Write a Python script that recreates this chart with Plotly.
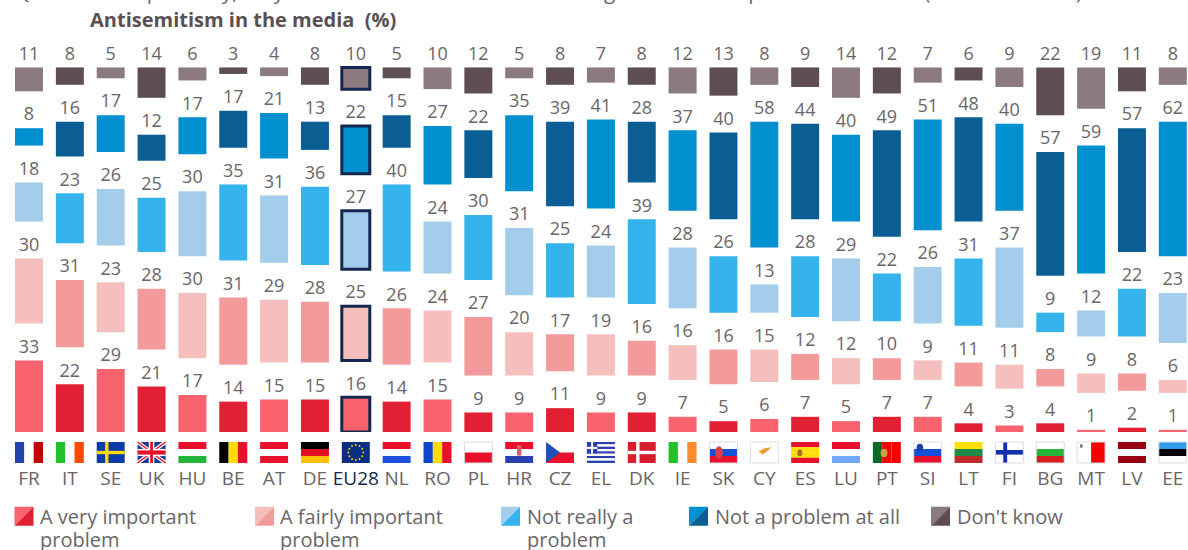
import math
import plotly.graph_objects as go

countries = ["FR","IT","SE","UK","HU","BE","AT","DE","EU28","NL","RO","PL","HR","CZ","EL","DK","IE","SK","CY","ES","LU","PT","SI","LT","FI","BG","MT","LV","EE"]
very_important = [33,22,29,21,17,14,15,15,16,14,15,9,9,11,9,9,7,5,6,7,5,7,7,4,3,4,1,2,1]
fairly_important = [30,31,23,28,30,31,29,28,25,26,24,27,20,17,19,16,16,16,15,12,12,10,9,11,11,8,9,8,6]
not_really = [18,23,26,25,30,35,31,36,27,40,24,30,31,25,24,39,28,26,13,28,29,22,26,31,37,9,12,22,23]
not_at_all = [8,16,17,12,17,17,21,13,22,15,27,22,35,39,41,28,37,40,58,44,40,49,51,48,40,57,59,57,62]
dont_know = [11,8,5,14,6,3,4,8,10,5,10,12,5,8,7,8,12,13,8,9,14,12,7,6,9,22,19,11,8]

series = [
    (["A very important", "problem"], very_important, "#F8636D", "#E12133"),
    (["A fairly important", "problem"], fairly_important, "#F4BFBD", "#F39B9B"),
    (["Not really a", "problem"], not_really, "#A4CDEC", "#35B3EC"),
    (["Not a problem at all"], not_at_all, "#008FCF", "#0A5E94"),
    (["Don't know"], dont_know, "#8B7A80", "#5E4E54"),
]

GAP = 17
LABEL_PAD = 1.5
W, H = 1188, 550
BOTTOM = 432
SCALE = 2.17
BAR = 0.685
TEXT = "#6A6568"
NAVY = "#14284F"
FONT = "Open Sans"
x0_px, step_px = 29.0, 40.85

def py(p):
    return (BOTTOM - p) / BOTTOM

def px(p):
    return p / W

fig = go.Figure()
offset = [0] * len(countries)
for name, vals, light, dark in series:
    colors = [light if i % 2 == 0 else dark for i in range(len(vals))]
    widths = [3 if c == "EU28" else 0 for c in countries]
    fig.add_trace(go.Bar(
        x=countries, y=vals, base=offset, name=" ".join(name), width=BAR,
        marker=dict(color=colors, line=dict(color=NAVY, width=widths)),
        showlegend=False, hoverinfo="x+y",
    ))
    tops = [o + v for o, v in zip(offset, vals)]
    fig.add_trace(go.Scatter(
        x=countries, y=[t + LABEL_PAD for t in tops], mode="text", text=[str(v) for v in vals],
        textposition="top center", showlegend=False, hoverinfo="skip", cliponaxis=False,
        textfont=dict(family=FONT, size=18, color=TEXT),
    ))
    offset = [t + GAP for t in tops]

# ---- flags
R, B, WH, G, Y, K = "#E8102A", "#1A44B8", "#FFFFFF", "#22B53A", "#FFDD00", "#000000"
stripes = {
    "FR": ("v", ["#2244AA", WH, "#C40000"]), "IT": ("v", ["#22C02A", WH, "#FF4D00"]),
    "SE": ("v", ["#0A3BA8"]), "UK": ("v", ["#1A3A90"]),
    "HU": ("h", [R, WH, G]), "BE": ("v", [K, Y, R]), "AT": ("h", [R, WH, R]),
    "DE": ("h", [K, "#E01020", "#FFC000"]), "EU28": ("v", ["#0B2E82"]),
    "NL": ("h", [R, WH, "#1F4FE0"]), "RO": ("v", ["#1144CC", Y, R]), "PL": ("h", [WH, R]),
    "HR": ("h", [R, WH, "#2A3FB0"]), "CZ": ("h", [WH, R]), "EL": ("h", ["#2A3FB0", WH] * 4 + ["#2A3FB0"]),
    "DK": ("v", ["#D81E2C"]), "IE": ("v", ["#22C02A", WH, "#FF8C30"]),
    "SK": ("h", [WH, "#1450D8", R]), "CY": ("v", [WH]), "ES": ("h", [R, Y, Y, R]),
    "LU": ("h", [R, WH, "#70A8FF"]), "PT": ("v", ["#0A6A28", "#F80000", "#F80000"]),
    "SI": ("h", [WH, "#1450D8", R]), "LT": ("h", ["#FFE000", "#1E8A45", "#C02A2A"]),
    "FI": ("v", [WH]), "BG": ("h", [WH, "#22B53A", "#D81E1E"]), "MT": ("v", [WH, "#F80000"]),
    "LV": ("h", ["#960010", WH, "#960010"]), "EE": ("h", ["#2E9CE8", K, WH]),
}
# (kind, u0, v0, u1, v1, colour) in flag fractions, v measured from the top
extras = {
    "SE": [("rect", .30, 0, .42, 1, Y), ("rect", 0, .42, 1, .58, Y)],
    "UK": [("line", 0, 0, 1, 1, WH, 4), ("line", 0, 1, 1, 0, WH, 4),
           ("line", 0, 0, 1, 1, R, 1.5), ("line", 0, 1, 1, 0, R, 1.5),
           ("rect", .40, 0, .60, 1, WH), ("rect", 0, .33, 1, .67, WH),
           ("rect", .45, 0, .55, 1, R), ("rect", 0, .40, 1, .60, R)],
    "HR": [("rect", .42, .15, .58, .65, "#D8606A")],
    "CZ": [("poly", [(0, 0), (.5, .5), (0, 1)], "#1F4FB8")],
    "EL": [("rect", 0, 0, .37, .55, "#2A3FB0"), ("rect", .15, 0, .22, .55, WH), ("rect", 0, .23, .37, .33, WH)],
    "DK": [("rect", .30, 0, .42, 1, WH), ("rect", 0, .42, 1, .58, WH)],
    "SK": [("circle", .2, .2, .48, .8, "#D8404A")],
    "CY": [("poly", [(.3, .45), (.5, .3), (.75, .25), (.6, .45), (.45, .6)], "#E8A030")],
    "ES": [("circle", .22, .36, .4, .68, "#B06A20")],
    "PT": [("circle", .28, .32, .52, .72, "#C8A040")],
    "SI": [("circle", .1, .08, .34, .48, "#1F3FB0")],
    "FI": [("rect", .28, 0, .42, 1, "#1030B0"), ("rect", 0, .38, 1, .60, "#1030B0")],
    "MT": [("circle", .1, .1, .2, .28, "#777777")],
}
FLAG_TOP, FLAG_BOT = 442, 463
shapes = []

def fx(i, u):
    return i - BAR / 2 + u * BAR

def fy(v):
    return py(FLAG_TOP + v * (FLAG_BOT - FLAG_TOP))

for i, c in enumerate(countries):
    direction, cols = stripes[c]
    n = len(cols)
    for k, col in enumerate(cols):
        a, b = k / n, (k + 1) / n
        if direction == "v":
            u0, u1, v0, v1 = a, b, 0, 1
        else:
            u0, u1, v0, v1 = 0, 1, a, b
        shapes.append(dict(type="rect", xref="x", yref="paper", x0=fx(i, u0), x1=fx(i, u1),
                           y0=fy(v0), y1=fy(v1), fillcolor=col, line=dict(width=0), layer="above"))
    for e in extras.get(c, []):
        if e[0] == "rect" or e[0] == "circle":
            shapes.append(dict(type=e[0], xref="x", yref="paper", x0=fx(i, e[1]), x1=fx(i, e[3]),
                               y0=fy(e[2]), y1=fy(e[4]), fillcolor=e[5], line=dict(width=0), layer="above"))
        elif e[0] == "line":
            shapes.append(dict(type="line", xref="x", yref="paper", x0=fx(i, e[1]), x1=fx(i, e[3]),
                               y0=fy(e[2]), y1=fy(e[4]), line=dict(color=e[5], width=e[6]), layer="above"))
        else:
            pts = [(px(x0_px + step_px * i + (u - .5) * BAR * step_px), fy(v)) for u, v in e[1]]
            path = "M " + " L ".join(f"{a:.5f},{b:.5f}" for a, b in pts) + " Z"
            shapes.append(dict(type="path", xref="paper", yref="paper", path=path,
                               fillcolor=e[2], line=dict(width=0), layer="above"))
    if c == "EU28":
        for h in range(12):
            ang = math.radians(30 * h)
            cx = x0_px + step_px * i + 7.5 * math.cos(ang)
            cy = (FLAG_TOP + FLAG_BOT) / 2 + 7.5 * math.sin(ang)
            shapes.append(dict(type="circle", xref="paper", yref="paper", x0=px(cx - .9), x1=px(cx + .9),
                               y0=py(cy - .9), y1=py(cy + .9), fillcolor="#FFDD00", line=dict(width=0), layer="above"))
    if c in ("PL", "CY", "FI", "MT", "SI", "BG", "EE", "SK"):
        shapes.append(dict(type="rect", xref="x", yref="paper", x0=fx(i, 0), x1=fx(i, 1), y0=fy(0), y1=fy(1),
                           fillcolor="rgba(0,0,0,0)", line=dict(color="#DDDDDD", width=1), layer="above"))

# ---- legend (two-tone swatches with text)
legend_swatch_px = [14.5, 255, 501, 689, 931]
legend_text_px = [39.5, 280, 527, 715, 957]
LEGEND_LINES_PX = [516, 539]
annotations = []

def note(text, xp, yp, size, color=TEXT):
    return dict(text=text, xref="paper", yref="paper", x=px(xp), y=py(yp), xanchor="left", yanchor="middle",
                align="left", showarrow=False, borderpad=0, borderwidth=0,
                font=dict(family=FONT, size=size, color=color))

for (lines, _, light, dark), sx, tx in zip(series, legend_swatch_px, legend_text_px):
    s = 19
    top, bot = 506.7, 506.7 + s
    tri_a = [(sx, top), (sx + s, top), (sx, bot)]
    tri_b = [(sx + s, top), (sx + s, bot), (sx, bot)]
    for tri, col in ((tri_a, light), (tri_b, dark)):
        path = "M " + " L ".join(f"{px(a):.5f},{py(b):.5f}" for a, b in tri) + " Z"
        shapes.append(dict(type="path", xref="paper", yref="paper", path=path, fillcolor=col, line=dict(width=0)))
    for line, yp in zip(lines, LEGEND_LINES_PX):
        annotations.append(note(line, tx, yp, 20))

annotations.append(note("<b>Antisemitism in the media  (%)</b>", 90, 20, 20, "#5A5054"))
annotations.append(note("QB1.1   More precisely, do you think that each of the following situation is a problem or not in (OUR COUNTRY)?",
                        15, -9.5, 20.8))

ticktext = [f'<span style="color:{NAVY}">{c}</span>' if c == "EU28" else c for c in countries]

fig.update_layout(
    width=W, height=H, autosize=False,
    margin=dict(l=0, r=0, t=0, b=H - BOTTOM, pad=0),
    plot_bgcolor="white", paper_bgcolor="white",
    barmode="overlay", showlegend=False,
    shapes=shapes, annotations=annotations,
    xaxis=dict(type="category", categoryorder="array", categoryarray=countries,
               range=[-x0_px / step_px, (W - x0_px) / step_px],
               tickmode="array", tickvals=countries, ticktext=ticktext, tickangle=0,
               ticks="outside", ticklen=29, tickcolor="rgba(0,0,0,0)", showgrid=False, zeroline=False,
               showline=False, tickfont=dict(family=FONT, size=19, color=TEXT)),
    yaxis=dict(range=[0, BOTTOM / SCALE], visible=False, fixedrange=True),
)

fig.write_html("out.html", config=dict(displayModeBar=False),
               post_script="document.body.style.margin='0';document.body.style.overflow='hidden';")
